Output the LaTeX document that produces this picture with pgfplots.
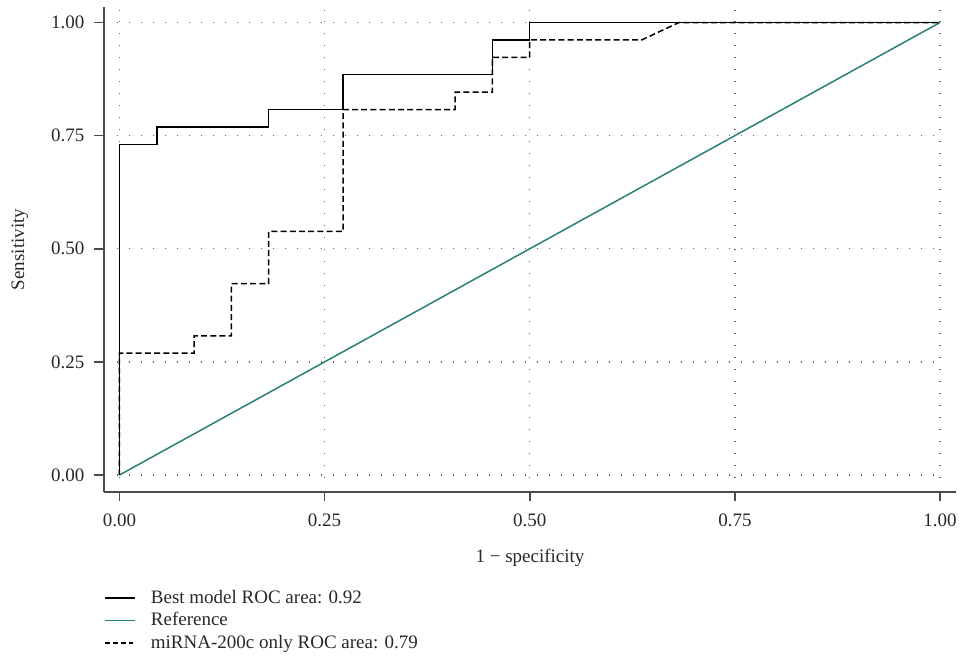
\documentclass[border=0pt]{standalone}
\usepackage{fontspec}
\setmainfont{Liberation Serif}
\usepackage{pgfplots}
\pgfplotsset{compat=1.18}
\definecolor{refteal}{RGB}{42,128,120}
\definecolor{axisgray}{RGB}{75,75,75}
\definecolor{txtgray}{RGB}{40,40,40}

\begin{document}
\begin{tikzpicture}
\path[use as bounding box] (-52pt,-84.65pt) rectangle (428pt,245.85pt);
\begin{axis}[
    scale only axis,
    width=426pt, height=242.35pt,
    xmin=-0.01889, xmax=1.0195,
    ymin=-0.0369, ymax=1.0343,
    axis lines*=left,
    axis line style={axisgray, line width=0.9pt, -},
    xtick={0,0.25,0.5,0.75,1},
    ytick={0,0.25,0.5,0.75,1},
    tick align=outside,
    major tick length=4.8pt,
    tick style={axisgray, line width=0.8pt},
    xticklabel style={yshift=-2.5pt, /pgf/number format/.cd, fixed, fixed zerofill, precision=2, assume math mode=true},
    yticklabel style={xshift=-1.5pt, /pgf/number format/.cd, fixed, fixed zerofill, precision=2, assume math mode=true},
    ticklabel style={font=\fontsize{9.5}{11}\selectfont, text=txtgray},
    every axis x label/.style={at={(axis description cs:0.5,-0.1368)}, anchor=center},
    every axis y label/.style={at={(axis description cs:-0.0986,0.5)}, anchor=center, rotate=90},
    label style={font=\fontsize{9.5}{11}\selectfont, text=txtgray},
    xlabel={1 − specificity},
    ylabel={Sensitivity},
    legend style={at={(axis description cs:0,-0.2001)}, anchor=north west, draw=none, fill=none,
        inner sep=0pt, row sep=2.25pt,
        font=\fontsize{9.5}{11}\selectfont, text=txtgray,
        nodes={inner sep=0pt, text height=7pt, text depth=2pt}},
    legend cell align=left,
    legend image code/.code={\draw[#1] (0pt,0pt) -- (15pt,0pt) (22.5pt,0pt);},
    clip=false,
]
% grid (dotted), spans just the data range
\foreach \v in {0,0.25,0.5,0.75,1} {
    \edef\tmp{\noexpand\draw[gray!80!black, line width=0.7pt, dash pattern=on 0.6pt off 5.4pt]
        (axis cs:\v,-0.007) -- (axis cs:\v,1.028);
        \noexpand\draw[gray!80!black, line width=0.7pt, dash pattern=on 0.6pt off 5.4pt]
        (axis cs:-0.0034,\v) -- (axis cs:1.0037,\v);}
    \tmp
}
\addplot[black, line width=0.75pt] coordinates {
    (0,0) (0,0.7308) (0.0455,0.7308) (0.0455,0.7692) (0.1818,0.7692)
    (0.1818,0.8077) (0.2727,0.8077) (0.2727,0.8846) (0.4545,0.8846)
    (0.4545,0.9615) (0.5,0.9615) (0.5,1) (1,1)
};
\addlegendentry{Best model ROC area: 0.92}
\addplot[refteal, line width=0.75pt] coordinates {(0,0) (1,1)};
\addlegendentry{Reference}
\addplot[black, line width=0.75pt, dash pattern=on 3pt off 1.6pt,
    legend image post style={dash pattern=on 2.4pt off 1.5pt}] coordinates {
    (0,0) (0,0.2692) (0.0909,0.2692) (0.0909,0.3077) (0.1364,0.3077)
    (0.1364,0.4231) (0.1818,0.4231) (0.1818,0.5385) (0.2727,0.5385)
    (0.2727,0.8077) (0.4091,0.8077) (0.4091,0.8462) (0.4545,0.8462)
    (0.4545,0.9231) (0.5,0.9231) (0.5,0.9615) (0.6364,0.9615)
    (0.6818,1) (1,1)
};
\addlegendentry{miRNA-200c only ROC area: 0.79}
\end{axis}
\end{tikzpicture}
\end{document}
